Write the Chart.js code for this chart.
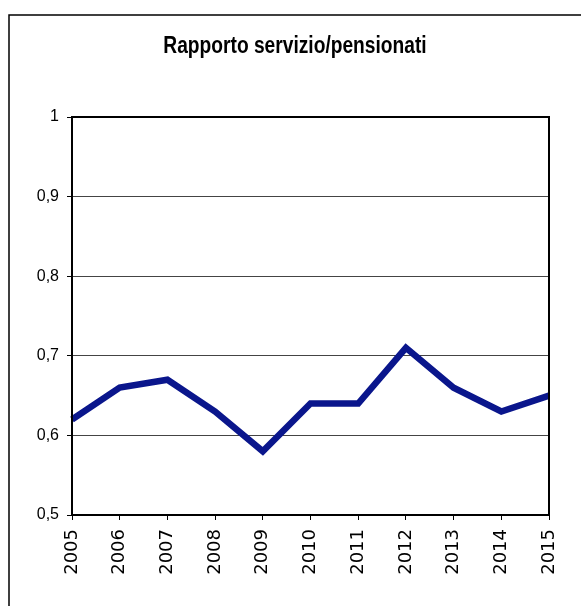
<!DOCTYPE html>
<html>
<head>
<meta charset="utf-8">
<script src="https://cdn.jsdelivr.net/npm/chart.js@4/dist/chart.umd.min.js"></script>
<style>
  html, body { margin: 0; padding: 0; background: #fff; }
  canvas { display: block; }
</style>
</head>
<body>
<canvas id="c" width="581" height="606"></canvas>
<script>
const chartTitle = 'Rapporto servizio/pensionati';
const years = ['2005','2006','2007','2008','2009','2010','2011','2012','2013','2014','2015'];
const ratio = [0.62, 0.66, 0.67, 0.63, 0.58, 0.64, 0.64, 0.71, 0.66, 0.63, 0.65];
const yTickLabels = ['0,5','0,6','0,7','0,8','0,9','1'];

const framePlugin = {
  id: 'frame',
  afterLayout(chart) {
    const tb = chart.titleBlock;
    if (tb) {
      tb.left = 9;
      tb.right = 581;
      if (!tb._stretched) {
        const orig = tb.draw;
        tb.draw = function (area) {
          const ctx = this.ctx;
          const cy = 46.8;
          ctx.save();
          ctx.translate(0, cy);
          ctx.scale(1, 1.2);
          ctx.translate(0, -cy);
          orig.call(this, area);
          ctx.restore();
        };
        tb._stretched = true;
      }
    }
  },
  afterDraw(chart) {
    const ctx = chart.ctx;
    const a = chart.chartArea;
    ctx.save();
    ctx.strokeStyle = '#000';
    ctx.lineWidth = 2;
    ctx.strokeRect(a.left, a.top, a.right - a.left, a.bottom - a.top);
    ctx.lineWidth = 1.5;
    ctx.beginPath();
    ctx.moveTo(9, 606);
    ctx.lineTo(9, 15);
    ctx.lineTo(581, 15);
    ctx.stroke();
    ctx.restore();
  }
};

new Chart(document.getElementById('c'), {
  type: 'line',
  data: {
    labels: years,
    datasets: [{
      data: ratio,
      borderColor: '#0a168c',
      borderWidth: 6.5,
      borderJoinStyle: 'miter',
      pointRadius: 0,
      tension: 0,
      fill: false
    }]
  },
  options: {
    responsive: false,
    animation: false,
    layout: { padding: { top: 0, right: 32, bottom: 0, left: 0 } },
    plugins: {
      legend: { display: false },
      tooltip: { enabled: false },
      title: {
        display: true,
        text: chartTitle,
        color: '#000',
        font: { family: 'Liberation Sans, Arial, sans-serif', size: 19.2, weight: 'bold', lineHeight: 1.2 },
        padding: { top: 35.3, bottom: 58.66 }
      }
    },
    scales: {
      x: {
        offset: false,
        grid: { display: true, drawOnChartArea: false, drawTicks: true, tickLength: 5, tickColor: '#000', lineWidth: 1 },
        border: { display: false },
        ticks: {
          color: '#000',
          maxRotation: 90, minRotation: 90,
          autoSkip: false,
          padding: 9,
          font: { family: 'DejaVu Sans, sans-serif', size: 18 }
        },
        afterFit(scale) { scale.height = 91; }
      },
      y: {
        min: 0.5, max: 1,
        grid: { color: '#444', lineWidth: 1, drawTicks: true, tickLength: 5, tickColor: '#000' },
        border: { display: false },
        ticks: {
          stepSize: 0.1,
          color: '#000',
          padding: 8,
          font: { family: 'Liberation Sans, Arial, sans-serif', size: 16 },
          callback(value, index) { return yTickLabels[index]; }
        },
        afterFit(scale) { scale.width = 72; }
      }
    }
  },
  plugins: [framePlugin]
});
</script>
</body>
</html>
